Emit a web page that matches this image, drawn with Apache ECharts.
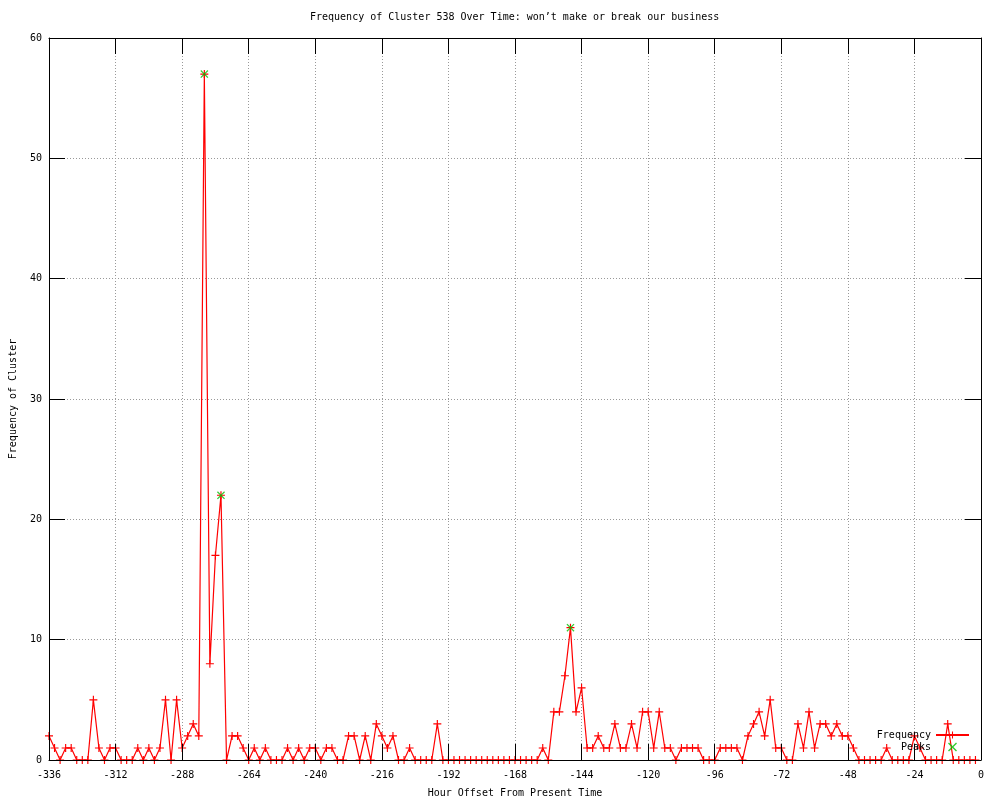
<!DOCTYPE html>
<html>
<head>
<meta charset="utf-8">
<title>Frequency of Cluster 538</title>
<script src="https://cdn.jsdelivr.net/npm/echarts@6/dist/echarts.min.js"></script>
<style>
html, body { margin: 0; padding: 0; background: #fff; }
#chart { width: 1000px; height: 800px; }
</style>
</head>
<body>
<div id="chart"></div>
<script>
// hourly samples, one every 2 hours, from -336 up to -2
const startHour = -336
const stepHours = 2

// frequency of the cluster per sample
const frequency = [
  2, 1, 0, 1, 1, 0, 0, 0, 5, 1,
  0, 1, 1, 0, 0, 0, 1, 0, 1, 0,
  1, 5, 0, 5, 1, 2, 3, 2, 57, 8,
  17, 22, 0, 2, 2, 1, 0, 1, 0, 1,
  0, 0, 0, 1, 0, 1, 0, 1, 1, 0,
  1, 1, 0, 0, 2, 2, 0, 2, 0, 3,
  2, 1, 2, 0, 0, 1, 0, 0, 0, 0,
  3, 0, 0, 0, 0, 0, 0, 0, 0, 0,
  0, 0, 0, 0, 0, 0, 0, 0, 0, 1,
  0, 4, 4, 7, 11, 4, 6, 1, 1, 2,
  1, 1, 3, 1, 1, 3, 1, 4, 4, 1,
  4, 1, 1, 0, 1, 1, 1, 1, 0, 0,
  0, 1, 1, 1, 1, 0, 2, 3, 4, 2,
  5, 1, 1, 0, 0, 3, 1, 4, 1, 3,
  3, 2, 3, 2, 2, 1, 0, 0, 0, 0,
  0, 1, 0, 0, 0, 0, 2, 1, 0, 0,
  0, 0, 3, 0, 0, 0, 0, 0
]

// detected peaks
const peakHours = [-280, -274, -148]
const peakValues = [57, 22, 11]

const xTicks = { min: -336, max: 0, interval: 24 }
const yTicks = { min: 0, max: 60, interval: 10 }

const freqData = frequency.map((v, i) => [startHour + i * stepHours, v])
const peakData = peakHours.map((h, i) => [h, peakValues[i]])

const font = 'DejaVu Sans Mono'
const plusPath = 'path://M0,3.85 H3.85 V0 H5.15 V3.85 H9 V5.15 H5.15 V9 H3.85 V5.15 H0 Z'
const crossPath = 'path://M0,1 L1,0 L4.5,3.5 L8,0 L9,1 L5.5,4.5 L9,8 L8,9 L4.5,5.5 L1,9 L0,8 L3.5,4.5 Z'

const tickStyle = { show: true, inside: true, length: 16, lineStyle: { color: '#000', width: 1 } }
const lineStyle = { show: true, onZero: false, lineStyle: { color: '#000', width: 1 } }
const gridLine = { show: true, lineStyle: { color: '#999', width: 1, type: [1, 2] } }
const labelStyle = { color: '#000', fontFamily: font, fontSize: 10 }

const chart = echarts.init(document.getElementById('chart'), null, { renderer: 'canvas' })

const option = {
  animation: false,
  backgroundColor: '#fff',
  title: {
    text: 'Frequency of Cluster 538 Over Time: won\u2019t make or break our business',
    left: 310,
    top: 12,
    padding: 0,
    textStyle: { color: '#000', fontFamily: font, fontSize: 10, fontWeight: 'normal' }
  },
  legend: {
    data: ['Frequency', 'Peaks'],
    orient: 'vertical',
    align: 'right',
    right: 30,
    bottom: 48,
    padding: 0,
    itemWidth: 33,
    itemHeight: 9,
    itemGap: 2,
    textStyle: labelStyle
  },
  grid: { left: 49, right: 19, top: 38, bottom: 40, containLabel: false, outerBoundsMode: 'none' },
  xAxis: [
    {
      // bottom axis: labels, frame, ticks
      type: 'value', position: 'bottom', z: 3,
      min: xTicks.min, max: xTicks.max, interval: xTicks.interval,
      name: 'Hour Offset From Present Time',
      nameLocation: 'middle', nameGap: 28,
      nameTextStyle: labelStyle,
      axisLine: lineStyle, axisTick: tickStyle,
      axisLabel: Object.assign({ margin: 10 }, labelStyle),
      splitLine: { show: false }
    },
    {
      // top mirror
      type: 'value', position: 'top', z: 3,
      min: xTicks.min, max: xTicks.max, interval: xTicks.interval,
      axisLine: lineStyle, axisTick: tickStyle,
      axisLabel: { show: false }, splitLine: { show: false }
    },
    {
      // grid lines only
      type: 'value', position: 'bottom', z: 1,
      min: xTicks.min, max: xTicks.max, interval: xTicks.interval,
      axisLine: { show: false }, axisTick: { show: false },
      axisLabel: { show: false }, splitLine: gridLine
    }
  ],
  yAxis: [
    {
      type: 'value', position: 'left', z: 3,
      min: yTicks.min, max: yTicks.max, interval: yTicks.interval,
      name: 'Frequency of Cluster',
      nameLocation: 'middle', nameGap: 31, nameRotate: 90,
      nameTextStyle: labelStyle,
      axisLine: lineStyle, axisTick: tickStyle,
      axisLabel: Object.assign({ margin: 7 }, labelStyle),
      splitLine: { show: false }
    },
    {
      type: 'value', position: 'right', z: 3,
      min: yTicks.min, max: yTicks.max, interval: yTicks.interval,
      axisLine: lineStyle, axisTick: tickStyle,
      axisLabel: { show: false }, splitLine: { show: false }
    },
    {
      type: 'value', position: 'left', z: 1,
      min: yTicks.min, max: yTicks.max, interval: yTicks.interval,
      axisLine: { show: false }, axisTick: { show: false },
      axisLabel: { show: false }, splitLine: gridLine
    }
  ],
  series: [
    {
      name: 'Frequency',
      type: 'line',
      data: freqData,
      symbol: plusPath,
      symbolSize: 8,
      showSymbol: true,
      showAllSymbol: true,
      clip: false,
      color: '#ff0000',
      lineStyle: { color: '#ff0000', width: 1.2 },
      itemStyle: { color: '#ff0000' },
      z: 2
    },
    {
      name: 'Peaks',
      type: 'scatter',
      data: peakData,
      symbol: crossPath,
      symbolSize: 8,
      color: '#00c000',
      itemStyle: { color: '#00c000' },
      z: 3
    }
  ]
}

chart.setOption(option)
</script>
</body>
</html>
